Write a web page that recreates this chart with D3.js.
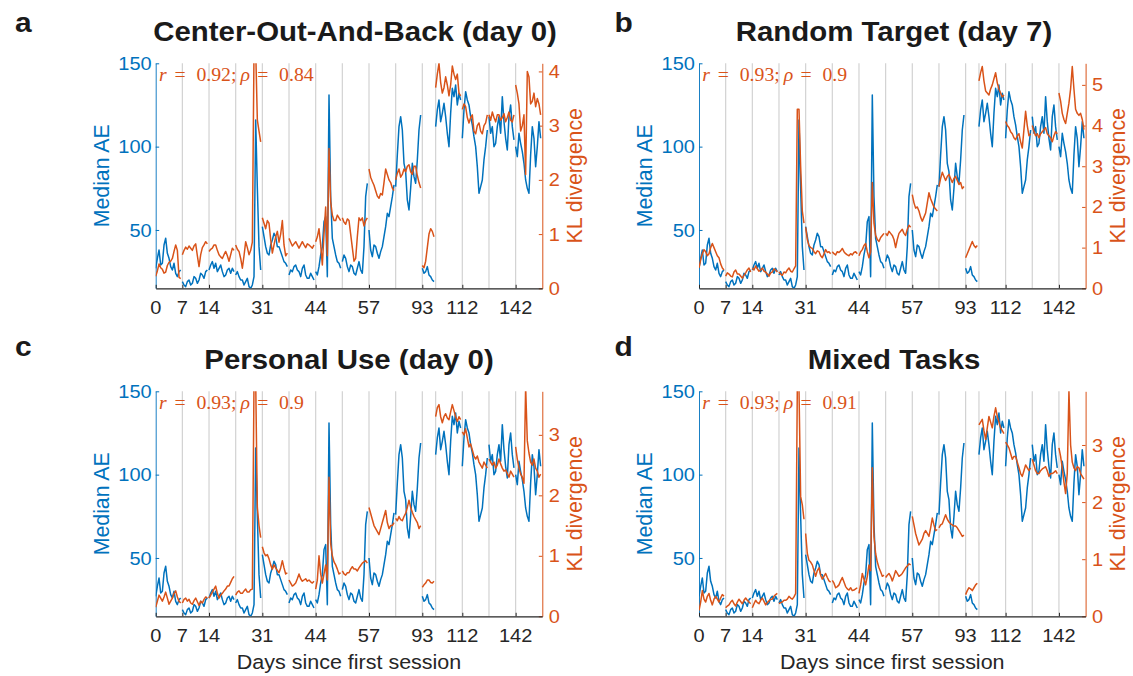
<!DOCTYPE html>
<html><head><meta charset="utf-8">
<script src="https://cdn.jsdelivr.net/npm/d3@7"></script>
<style>body{margin:0;background:#fff}svg{display:block}</style>
</head><body><svg id="chart" width="1133" height="676"></svg>
<script>
// ---------------- data ----------------
const sampleStep = 0.0625; // axis units (sessions) per sample
const sessionBounds = [0,1,2,3,4,5,6,7,8,9,10,10.5,11.5,12.5,13.5,14.5];
const xTickPos = [0,1,2,4,6,8,10,11.5,13.5];
const xTickLabels = ['0','7','14','31','44','57','93','112','142'];
const aeTicks = [50,100,150];
const aeDomain = [15,150];
const panelTitles = ['Center-Out-And-Back (day 0)','Random Target (day 7)','Personal Use (day 0)','Mixed Tasks'];
const panelLetters = ['a','b','c','d'];
const corrR = ['0.92','0.93','0.93','0.93'];
const corrRho = ['0.84','0.9','0.9','0.91'];
const klMax = [4.15,5.53,3.72,3.94];
const klTicks = [[0,1,2,3,4],[0,1,2,3,4,5],[0,1,2,3],[0,1,2,3]];

const blueMedianAE = [
 27,33,38,29,30,41,45,36,33,28,26,30,24,22,25,26,
 19,17,16,19,20,17,18,22,21,18,20,24,23,21,25,26,
 26,29,31,27,30,25,27,29,25,22,23,26,27,24,27,25,
 23,25,22,20,20,17,19,21,16,15,17,22,116,75,40,26,
 52,46,40,36,35,41,44,48,46,40,40,37,34,31,30,28,
 23,26,25,28,29,26,25,22,27,29,23,21,21,24,22,20,
 25,23,28,35,40,55,58,22,131,70,45,40,35,31,30,27,
 31,35,33,28,25,29,28,24,23,27,31,26,24,40,70,78,
 50,38,34,41,40,36,33,37,40,46,52,60,58,64,70,77,
 76,95,112,118,110,90,85,68,62,75,90,82,78,92,110,119,
 27,24,25,28,23,22,20,19,
 112,122,128,115,120,126,118,108,100,120,135,130,137,125,132,128,
 105,122,133,128,125,118,113,106,100,88,72,76,80,92,100,110,
 118,108,112,100,102,112,118,108,130,115,105,98,118,125,112,104,
 100,94,108,102,97,90,80,75,72,95,112,105,88,100,115,105,null];

const klCenterOut = [
 0.22,0.32,0.45,0.38,0.35,0.28,0.3,0.42,0.48,0.5,0.55,0.68,0.8,0.7,0.2,0.18,
 0.62,0.7,0.76,0.72,0.78,0.74,0.7,0.78,0.82,0.6,0.4,0.62,0.75,0.8,0.86,0.82,
 0.68,0.72,0.74,0.8,0.8,0.7,0.62,0.58,0.55,0.62,0.68,0.6,0.5,0.62,0.74,0.7,
 0.8,0.72,0.68,0.55,0.37,0.6,0.86,0.75,0.62,0.7,0.85,4.4,4.4,3.1,2.9,2.7,
 1.3,1.2,1.1,1.25,1.2,0.9,0.65,0.8,0.95,1.05,0.85,1.0,1.25,0.8,0.6,0.65,
 0.92,0.85,0.78,0.82,0.86,0.8,0.74,0.8,0.86,0.8,0.75,0.82,0.8,0.77,0.74,0.8,
 0.86,0.95,1.1,0.8,0.43,1.0,1.5,0.6,2.58,1.6,1.35,1.25,1.25,1.35,1.3,1.25,
 1.3,1.22,1.18,1.28,1.25,1.0,0.75,0.5,0.55,0.95,1.3,1.25,1.3,1.15,1.25,1.3,
 2.2,2.05,1.97,1.9,1.8,1.7,1.66,1.75,1.72,1.95,2.2,2.1,2.0,1.95,1.85,1.8,
 2.0,2.12,2.2,2.05,2.1,2.2,2.15,2.25,2.28,2.15,2.1,2.25,2.25,2.08,1.95,1.85,
 0.42,0.38,0.5,0.75,1.0,1.1,1.05,0.95,
 3.7,3.95,4.15,3.8,3.6,3.7,3.9,3.75,3.55,3.75,4.1,3.95,3.85,3.95,3.6,3.55,
 3.3,3.4,3.35,3.15,3.05,3.15,3.2,2.9,2.85,3.0,3.05,2.9,2.85,3.0,3.05,3.2,
 3.2,3.1,3.25,3.15,3.07,3.2,3.2,3.1,3.15,3.22,3.07,3.15,3.25,3.1,3.07,3.2,
 3.75,3.6,3.4,2.9,3.0,3.2,2.1,4.0,3.9,3.4,3.45,3.6,3.35,3.5,3.4,3.2,null];

const klRandomTarget = [
 0.5,0.7,0.85,0.95,0.9,0.8,0.85,1.0,1.1,1.0,0.9,0.8,0.75,0.6,0.5,0.45,
 0.3,0.38,0.35,0.3,0.28,0.4,0.45,0.35,0.35,0.3,0.25,0.32,0.38,0.45,0.5,0.4,
 0.5,0.45,0.55,0.48,0.42,0.45,0.5,0.42,0.4,0.35,0.3,0.38,0.4,0.48,0.45,0.4,
 0.4,0.35,0.32,0.4,0.38,0.45,0.5,0.42,0.4,0.48,0.55,4.4,4.4,3.0,1.9,1.6,
 1.5,1.2,1.05,1.0,0.98,0.9,0.85,0.92,0.9,0.8,0.75,0.85,0.95,0.88,0.9,0.85,
 0.9,0.85,0.82,0.9,0.88,0.92,0.98,0.9,0.85,0.82,0.8,0.85,0.82,0.88,0.9,0.85,
 0.8,0.9,0.95,1.05,1.1,0.9,0.75,0.9,2.6,1.6,1.3,1.2,1.15,1.25,1.3,1.35,
 1.35,1.3,1.4,1.35,1.3,1.2,1.0,1.2,1.35,1.4,1.45,1.35,1.3,1.45,1.55,1.5,
 2.3,2.1,1.97,2.0,1.9,1.75,1.65,1.75,1.85,2.1,2.35,2.2,2.1,2.0,1.95,1.9,
 2.5,2.7,2.85,2.75,2.65,2.75,2.8,2.7,2.6,2.7,2.75,2.65,2.55,2.6,2.45,2.5,
 0.75,0.85,0.95,1.05,1.15,1.05,1.0,1.05,
 5.1,5.3,5.45,5.1,4.85,4.8,4.75,4.9,5.0,5.15,5.3,5.05,4.9,4.8,4.7,4.75,
 4.1,4.0,3.95,3.85,3.8,3.7,3.65,3.75,3.8,3.6,3.45,3.9,4.35,4.0,3.75,3.8,
 4.0,3.85,3.75,3.8,3.7,3.8,3.85,3.9,3.95,3.8,3.75,3.7,3.6,3.75,3.85,3.8,
 4.8,4.6,4.3,4.15,4.05,4.3,4.55,4.9,5.45,4.9,4.4,4.3,4.25,4.3,4.15,3.9,null];

const klPersonalUse = [
 0.15,0.25,0.35,0.3,0.25,0.32,0.4,0.3,0.2,0.25,0.3,0.38,0.42,0.32,0.25,0.22,
 0.22,0.28,0.3,0.25,0.28,0.22,0.2,0.26,0.3,0.24,0.18,0.25,0.22,0.28,0.32,0.3,
 0.3,0.35,0.4,0.45,0.5,0.38,0.3,0.35,0.38,0.42,0.45,0.5,0.5,0.56,0.62,0.66,
 0.35,0.4,0.42,0.38,0.38,0.42,0.45,0.4,0.4,0.44,0.45,3.9,3.9,1.8,1.5,1.3,
 1.15,1.05,1.0,1.02,0.95,0.85,0.78,0.85,0.8,0.76,0.72,0.8,0.92,0.8,0.7,0.72,
 0.6,0.55,0.5,0.52,0.55,0.62,0.7,0.62,0.58,0.6,0.62,0.58,0.6,0.57,0.55,0.58,
 0.45,0.6,1.0,0.7,0.55,0.7,0.85,0.6,2.3,1.2,1.0,0.9,0.85,0.78,0.7,0.72,
 0.75,0.7,0.68,0.72,0.72,0.78,0.82,0.78,0.78,0.75,0.8,0.84,0.88,0.9,0.92,0.88,
 1.8,1.7,1.6,1.5,1.45,1.4,1.35,1.45,1.55,1.65,1.75,1.55,1.45,1.5,1.5,1.55,
 1.62,1.58,1.65,1.6,1.58,1.65,1.7,1.8,1.92,1.8,1.72,1.65,1.6,1.55,1.45,1.5,
 0.48,0.52,0.55,0.6,0.6,0.56,0.55,0.58,
 3.3,3.45,3.5,3.3,3.2,3.3,3.35,3.28,3.25,3.38,3.5,3.4,3.3,3.22,3.3,3.25,
 3.05,3.0,3.1,2.95,2.8,2.85,2.75,2.65,2.6,2.65,2.55,2.5,2.45,2.55,2.5,2.45,
 2.6,2.55,2.5,2.55,2.45,2.5,2.6,2.52,2.45,2.4,2.42,2.36,2.3,2.4,2.35,2.3,
 2.8,2.6,2.45,2.35,2.3,2.2,3.8,2.9,2.7,2.55,2.5,2.6,2.45,2.4,2.3,2.35,null];

const klMixedTasks = [
 0.1,0.25,0.45,0.3,0.25,0.35,0.4,0.28,0.2,0.3,0.35,0.3,0.25,0.32,0.38,0.35,
 0.15,0.18,0.2,0.25,0.28,0.22,0.18,0.25,0.3,0.26,0.22,0.28,0.32,0.28,0.25,0.22,
 0.15,0.22,0.28,0.24,0.22,0.28,0.32,0.26,0.2,0.24,0.27,0.3,0.3,0.35,0.38,0.4,
 0.22,0.24,0.25,0.28,0.28,0.3,0.35,0.32,0.3,0.34,0.4,4.0,4.0,2.1,1.95,1.7,
 1.45,1.1,0.98,0.95,0.9,0.8,0.7,0.8,0.85,0.72,0.65,0.7,0.75,0.68,0.62,0.6,
 0.63,0.58,0.5,0.52,0.55,0.62,0.68,0.6,0.52,0.48,0.46,0.5,0.45,0.46,0.48,0.5,
 0.4,0.55,0.75,0.65,0.55,0.7,0.9,0.8,2.6,1.4,1.1,0.95,0.85,0.78,0.7,0.72,
 0.68,0.72,0.75,0.7,0.62,0.7,0.8,0.75,0.7,0.72,0.75,0.8,0.85,0.88,0.92,0.9,
 1.75,1.6,1.45,1.35,1.25,1.3,1.35,1.45,1.5,1.45,1.4,1.55,1.72,1.6,1.5,1.52,
 1.55,1.6,1.62,1.7,1.78,1.7,1.65,1.62,1.6,1.58,1.58,1.55,1.5,1.45,1.4,1.42,
 0.38,0.45,0.5,0.48,0.45,0.5,0.55,0.58,
 3.35,3.4,3.45,3.25,3.1,3.3,3.5,3.4,3.3,3.5,3.65,3.5,3.4,3.3,3.25,3.2,
 3.05,3.0,2.95,2.85,2.75,2.8,2.8,2.7,2.6,2.5,2.45,2.55,2.65,2.6,2.55,2.6,
 2.75,2.65,2.55,2.5,2.5,2.55,2.58,2.6,2.62,2.55,2.45,2.5,2.5,2.52,2.55,2.5,
 2.95,2.8,2.6,2.35,2.15,2.5,3.95,3.0,2.7,2.6,2.55,2.62,2.6,2.5,2.45,2.4,null];

const klSeries = [klCenterOut, klRandomTarget, klPersonalUse, klMixedTasks];

// ---------------- layout / style ----------------
const SX = 1.07;
const FONT = '"Liberation Sans", Arial, Helvetica, sans-serif';
const SERIF = '"Liberation Serif", "Times New Roman", serif';
const BLUE = '#0072BD', ORANGE = '#D95319', DARK = '#262626';
const PW = 386.6, PH = 225;
const layout = [
 {left:155.7, top:63.3, titleX:355, titleY:40.7, letterX:15, letterY:31.5, xlabel:false},
 {left:699, top:63.3, titleX:894, titleY:40.7, letterX:614.5, letterY:31.5, xlabel:false},
 {left:155.7, top:391.3, titleX:349, titleY:369.3, letterX:15, letterY:355.5, xlabel:true},
 {left:699, top:391.3, titleX:894, titleY:369.3, letterX:614.5, letterY:355.5, xlabel:true}
];

const svg = d3.select('#chart');

function txt(g, x, y, s, o = {}) {
  const sx = o.sx == null ? SX : o.sx;
  let tr = `translate(${x},${y}) scale(${sx},1)`;
  if (o.rot) tr += ` rotate(${o.rot})`;
  const t = g.append('text').attr('transform', tr).text(s)
    .attr('font-family', o.family || FONT)
    .attr('font-size', o.size || 18.7)
    .attr('fill', o.fill || DARK)
    .attr('text-anchor', o.anchor || 'start');
  if (o.bold) t.attr('font-weight', 'bold');
  if (o.italic) t.attr('font-style', 'italic');
  if (o.dy) t.attr('dy', o.dy);
  return t;
}

klSeries.forEach((kl, p) => {
  const L = layout[p];
  const g = svg.append('g');
  const x = d3.scaleLinear().domain([0, 14.5]).range([L.left, L.left + PW]);
  const yA = d3.scaleLinear().domain(aeDomain).range([L.top + PH, L.top]);
  const yK = d3.scaleLinear().domain([0, klMax[p]]).range([L.top + PH, L.top]);

  const cid = 'clip' + p;
  svg.append('clipPath').attr('id', cid).append('rect')
    .attr('x', L.left).attr('y', L.top).attr('width', PW).attr('height', PH);

  // session grid lines
  g.append('g').selectAll('line').data(sessionBounds.filter(b => b > 0 && b < 14.5)).join('line')
    .attr('x1', d => x(d)).attr('x2', d => x(d))
    .attr('y1', L.top).attr('y2', L.top + PH)
    .attr('stroke', '#d2d2d2').attr('stroke-width', 1.2);

  // axes
  const ax = g.append('g').attr('transform', `translate(${L.left},0)`)
    .call(d3.axisLeft(yA).tickValues(aeTicks).tickSizeInner(-3.5).tickSizeOuter(0).tickFormat(''));
  ax.select('.domain').attr('stroke', BLUE).attr('stroke-width', 0.9);
  ax.selectAll('.tick line').attr('stroke', BLUE);

  const axr = g.append('g').attr('transform', `translate(${L.left + PW},0)`)
    .call(d3.axisRight(yK).tickValues(klTicks[p]).tickSizeInner(-3.5).tickSizeOuter(0).tickFormat(''));
  axr.select('.domain').attr('stroke', ORANGE).attr('stroke-width', 1);
  axr.selectAll('.tick line').attr('stroke', ORANGE);

  const axb = g.append('g').attr('transform', `translate(0,${L.top + PH})`)
    .call(d3.axisBottom(x).tickValues(xTickPos).tickSizeInner(-3.5).tickSizeOuter(0).tickFormat(''));
  axb.select('.domain').attr('stroke', DARK).attr('stroke-width', 1.3);
  axb.selectAll('.tick line').attr('stroke', DARK);

  // data lines, split at session boundaries
  const draw = (vals, yS, color) => {
    const pts = vals.map((v, i) => ({u: i * sampleStep, v}));
    const segs = d3.pairs(sessionBounds).map(([a, b]) => pts.filter(d => d.u >= a && d.u < b));
    const line = d3.line().defined(d => d.v != null).x(d => x(d.u)).y(d => yS(d.v));
    g.append('g').attr('clip-path', `url(#${cid})`)
      .selectAll('path').data(segs).join('path')
      .attr('d', line).attr('fill', 'none').attr('stroke', color)
      .attr('stroke-width', 1.5).attr('stroke-linejoin', 'round');
  };
  draw(blueMedianAE, yA, BLUE);
  draw(kl, yK, ORANGE);

  // tick labels
  aeTicks.forEach(v => txt(g, L.left - 4, yA(v), String(v), {anchor: 'end', fill: BLUE, dy: '0.35em'}));
  klTicks[p].forEach(v => txt(g, L.left + PW + 6.5, yK(v), String(v), {fill: ORANGE, dy: '0.35em'}));
  xTickPos.forEach((u, i) => txt(g, x(u), L.top + PH + 25.7, xTickLabels[i], {anchor: 'middle'}));

  // axis labels
  txt(g, L.left - 46.7, L.top + PH / 2, 'Median AE', {rot: -90, anchor: 'middle', fill: BLUE, size: 21.3, sx: 1});
  txt(g, L.left + PW + 39.5, L.top + PH / 2, 'KL divergence', {rot: -90, anchor: 'middle', fill: ORANGE, size: 21.3, sx: 1});
  if (L.xlabel) txt(g, L.left + PW / 2, 669.3, 'Days since first session', {anchor: 'middle', size: 20.1});

  // correlation annotation (math style)
  const fs = 18.5, k = fs * SX;
  const tokens = [
    {s: 'r', it: true, w: 0.451 + 0.33},
    {s: '=', w: 0.778 + 0.33},
    {s: corrR[p] + ';', w: corrR[p].length * 0.5 - 0.222 + 0.278 + 0.1667},
    {s: 'ρ', it: true, w: 0.517 + 0.33},
    {s: '=', w: 0.778 + 0.33},
    {s: corrRho[p], w: 0}
  ];
  let cx = L.left + 3.3;
  tokens.forEach(t => {
    txt(g, cx, L.top + 18, t.s, {family: SERIF, size: fs, fill: ORANGE, italic: !!t.it});
    cx += t.w * k;
  });

  // title and panel letter
  txt(svg, L.titleX, L.titleY, panelTitles[p], {anchor: 'middle', bold: true, size: 27.5, fill: '#1a1a1a'});
  txt(svg, L.letterX, L.letterY, panelLetters[p], {bold: true, size: 28, fill: '#1a1a1a'});
});
</script></body></html>
